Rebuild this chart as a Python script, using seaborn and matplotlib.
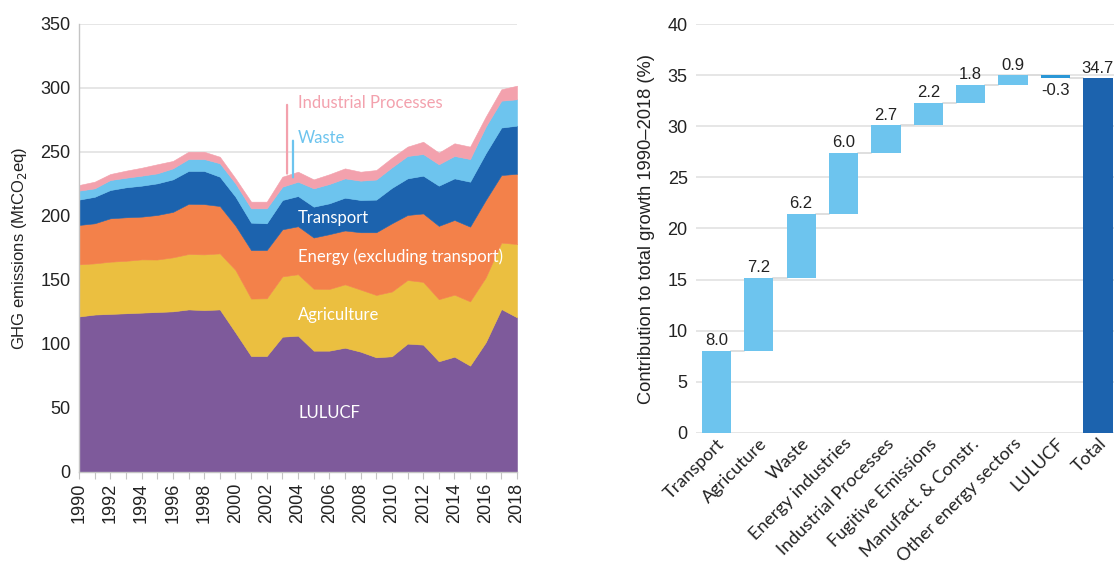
import matplotlib
matplotlib.use("Agg")
import matplotlib.pyplot as plt
import numpy as np
import pandas as pd
import seaborn as sns

# ---------------- data ----------------
years = list(range(1990, 2019))
lulucf = [121.5, 123.0, 123.5, 124.0, 124.5, 125.0, 125.5, 127.0, 126.5, 127.0,
          109.0, 90.6, 90.6, 105.7, 106.5, 94.8, 94.8, 97.1, 94.0, 89.6,
          90.4, 100.3, 99.5, 86.5, 90.1, 83.1, 101.3, 127.3, 120.8]
agriculture = [40.7, 40.0, 40.8, 41.0, 41.6, 41.0, 42.2, 43.3, 43.5, 43.8,
               48.8, 44.9, 45.1, 47.1, 48.0, 48.4, 48.2, 49.5, 48.5, 48.7,
               50.6, 49.7, 49.0, 48.5, 48.4, 50.2, 50.7, 51.9, 57.3]
energy = [30.8, 31.3, 33.9, 34.0, 33.4, 34.8, 35.5, 39.2, 39.3, 37.0,
          34.7, 37.9, 37.7, 36.8, 37.5, 40.0, 42.8, 42.1, 44.8, 49.0,
          53.3, 50.8, 53.5, 57.3, 58.4, 58.4, 60.5, 52.8, 54.9]
transport = [19.8, 20.7, 22.1, 23.4, 24.2, 24.7, 25.4, 25.7, 25.9, 22.9,
             22.6, 21.4, 20.9, 22.9, 23.6, 24.1, 24.1, 25.6, 25.2, 25.5,
             27.7, 28.6, 29.5, 31.4, 32.5, 35.1, 36.5, 37.1, 37.6]
waste = [7.0, 6.6, 7.8, 7.5, 7.8, 7.8, 8.6, 9.3, 9.3, 10.5,
         10.4, 11.2, 11.7, 10.4, 11.2, 14.3, 15.1, 15.1, 15.1, 15.7,
         16.0, 17.5, 16.9, 16.7, 17.5, 17.7, 20.8, 21.0, 20.6]
industrial = [4.4, 5.2, 4.7, 5.5, 6.2, 7.1, 5.8, 5.7, 5.7, 5.1,
              3.9, 5.2, 5.2, 7.8, 7.8, 7.0, 7.6, 7.8, 7.0, 7.4,
              7.5, 7.3, 9.6, 9.1, 9.9, 9.7, 7.8, 8.9, 10.6]

sectors = ["LULUCF", "Agriculture", "Energy (excluding transport)",
           "Transport", "Waste", "Industrial Processes"]
area_colors = ["#7E5A9B", "#EBBF40", "#F3814A", "#1C63AE", "#6DC4EE", "#F3A1AD"]

wf_categories = ["Transport", "Agricuture", "Waste", "Energy industries",
                 "Industrial Processes", "Fugitive Emissions",
                 "Manufact. & Constr.", "Other energy sectors", "LULUCF", "Total"]
wf_values = [8.0, 7.2, 6.2, 6.0, 2.7, 2.2, 1.8, 0.9, -0.3]
wf_total = 34.7

# ---------------- style ----------------
sns.set_theme(style="white")
plt.rcParams["font.family"] = ["Liberation Sans", "DejaVu Sans"]
label_font = ["Lato", "DejaVu Sans"]
grid_color = "#e4e4e4"
text_color = "#222222"

fig = plt.figure(figsize=(11.15, 5.67), dpi=100)
W, H = 1115, 567
ax1 = fig.add_axes([79 / W, 1 - 472 / H, (517 - 79) / W, (472 - 24) / H])
ax2 = fig.add_axes([696 / W, 1 - 432.7 / H, (1114 - 696) / W, (432.7 - 24.3) / H])

# ---------------- left: stacked area ----------------
ax1.stackplot(years, lulucf, agriculture, energy, transport, waste, industrial,
              colors=area_colors, edgecolor="face", linewidth=0.4, zorder=2)
ax1.set_xlim(1990, 2018)
ax1.set_ylim(0, 350)
ax1.set_yticks(range(0, 351, 50))
ax1.set_xticks(range(1990, 2019, 2))
ax1.set_xticks(range(1990, 2019), minor=True)
ax1.set_xticklabels([str(y) for y in range(1990, 2019, 2)], rotation=90)
ax1.yaxis.grid(True, color=grid_color, lw=1.3, zorder=0)
ax1.xaxis.grid(False)
ax1.set_axisbelow(True)
for s in ["top", "right"]:
    ax1.spines[s].set_visible(False)
for s in ["left", "bottom"]:
    ax1.spines[s].set_color("#c4c4c4")
    ax1.spines[s].set_linewidth(1.0)
ax1.tick_params(axis="y", length=0, labelsize=13, colors=text_color, pad=6)
ax1.tick_params(axis="x", which="both", direction="out", length=5, width=0.8,
                color="#c4c4c4", labelsize=13, labelcolor=text_color, pad=3, bottom=True)
ax1.set_ylabel("GHG emissions (MtCO$_2$eq)", fontsize=12, color=text_color, labelpad=8)

lab_x = 2004.0
lab_fs = 12
ax1.text(lab_x, 45.8, "LULUCF", color="white", fontsize=lab_fs, va="center", ha="left",
         family=label_font, zorder=5)
ax1.text(lab_x, 122.6, "Agriculture", color="white", fontsize=lab_fs, va="center", ha="left",
         family=label_font, zorder=5)
ax1.text(lab_x, 168.0, "Energy (excluding transport)", color="white", fontsize=lab_fs,
         va="center", ha="left", family=label_font, zorder=5)
ax1.text(lab_x, 198.4, "Transport", color="white", fontsize=lab_fs, va="center", ha="left",
         family=label_font, zorder=5)
ax1.text(lab_x, 261.0, "Waste", color=area_colors[4], fontsize=lab_fs, va="center", ha="left",
         family=label_font, zorder=5)
ax1.text(lab_x, 288.0, "Industrial Processes", color=area_colors[5], fontsize=lab_fs,
         va="center", ha="left", family=label_font, zorder=5)
ax1.annotate("", xy=(2003.3, 231), xytext=(2003.3, 289),
             arrowprops=dict(arrowstyle="-", color=area_colors[5], lw=1.6), zorder=5)
ax1.annotate("", xy=(2003.68, 228), xytext=(2003.68, 261),
             arrowprops=dict(arrowstyle="-", color=area_colors[4], lw=1.6), zorder=5)

# ---------------- right: waterfall ----------------
cum = np.cumsum(wf_values)
bottoms = list(np.concatenate([[0], cum[:-1]])) + [0]
heights = list(wf_values) + [wf_total]
wf_df = pd.DataFrame({"category": wf_categories, "height": heights, "bottom": bottoms})
bar_colors = ["#6DC4EE" if v >= 0 else "#2B97D6" for v in wf_values] + ["#1C63AE"]

sns.barplot(data=wf_df, x="category", y="height", bottom=wf_df["bottom"].values,
            width=0.69, color="#6DC4EE", errorbar=None, ax=ax2, zorder=3)
for patch, c in zip(ax2.patches, bar_colors):
    patch.set_facecolor(c)
    patch.set_edgecolor("none")

# connectors
tops = list(cum)
for i in range(len(wf_values)):
    ax2.plot([i + 0.345, i + 1 - 0.345], [tops[i], tops[i]], color="#dcdcdc",
             lw=1.3, zorder=2)

# value labels
for i, (v, b) in enumerate(zip(heights, bottoms)):
    if v >= 0:
        ax2.annotate(f"{v:.1f}", xy=(i, b + v), xytext=(0, 2), textcoords="offset points",
                     ha="center", va="bottom", fontsize=12, color=text_color)
    else:
        ax2.annotate(f"{v:.1f}", xy=(i, b + v), xytext=(0, -3), textcoords="offset points",
                     ha="center", va="top", fontsize=12, color=text_color)

ax2.set_xlim(-0.48, 9.38)
ax2.set_ylim(0, 40)
ax2.set_yticks(range(0, 41, 5))
ax2.yaxis.grid(True, color=grid_color, lw=1.3, zorder=0)
ax2.xaxis.grid(False)
ax2.set_axisbelow(True)
for s in ax2.spines.values():
    s.set_visible(False)
ax2.tick_params(axis="y", length=0, labelsize=13, colors=text_color, pad=6)
ax2.tick_params(axis="x", length=0, labelsize=13, colors=text_color, pad=2)
ax2.set_xlabel("")
ax2.set_ylabel("Contribution to total growth 1990\u20132018 (%)", fontsize=13.2,
               color=text_color, labelpad=9)
ax2.set_xticks(range(len(wf_categories)))
ax2.set_xticklabels(wf_categories, rotation=45, ha="right", rotation_mode="anchor",
                    family=label_font)

fig.savefig("out.png", dpi=100)
